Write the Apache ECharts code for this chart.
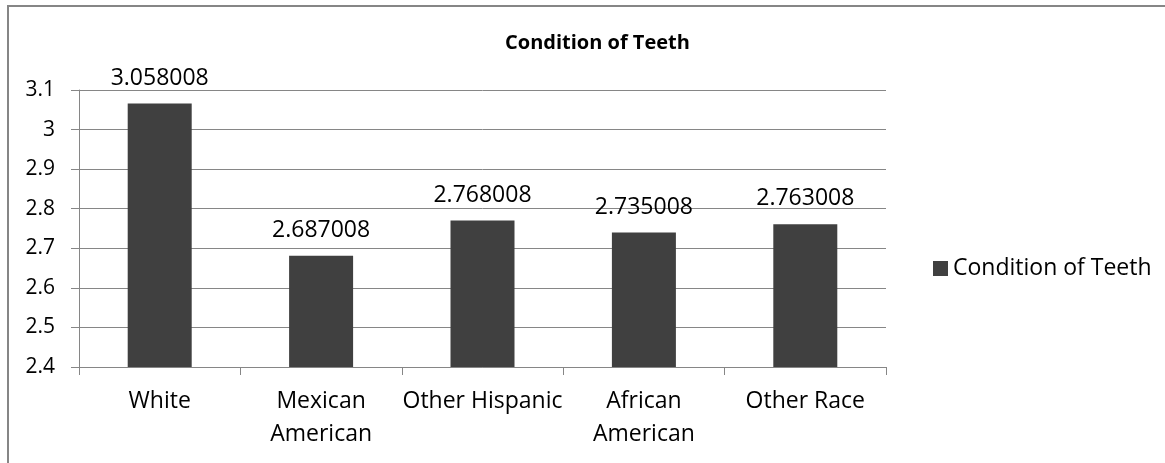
<!DOCTYPE html>
<html>
<head>
<meta charset="utf-8">
<script src="https://cdn.jsdelivr.net/npm/echarts@6/dist/echarts.min.js"></script>
<style>
  html, body { margin: 0; padding: 0; background: #fff; }
  #bar { width: 1165px; height: 463px; }
</style>
</head>
<body>
<div id="bar"></div>
<script>
var categories = ['White', 'Mexican\nAmerican', 'Other Hispanic', 'African\nAmerican', 'Other Race'];
var barValues = [3.066, 2.681, 2.770, 2.740, 2.761];
var labelTexts = ['3.058008', '2.687008', '2.768008', '2.735008', '2.763008'];
var yTicks = { min: 2.4, max: 3.1, step: 0.1 };

var lineGray = '#868686';
var font = 'Open Sans';

var myChart = echarts.init(document.getElementById('bar'));
var option = {
  animation: false,
  backgroundColor: '#fff',
  graphic: [{
    type: 'rect',
    shape: { x: 8, y: 6, width: 1200, height: 500 },
    style: { fill: 'none', stroke: lineGray, lineWidth: 2 }
  }],
  title: {
    text: 'Condition of Teeth',
    left: 500,
    top: 28,
    textStyle: { fontFamily: font, fontSize: 20, fontWeight: 'bold', color: '#000' }
  },
  legend: {
    data: ['Condition of Teeth'],
    left: 928,
    top: 252,
    icon: 'rect',
    itemWidth: 15,
    itemHeight: 15,
    textStyle: { fontFamily: font, fontSize: 23, color: '#000' }
  },
  grid: {
    left: 79,
    right: 279,
    top: 90,
    bottom: 96,
    containLabel: false
  },
  xAxis: {
    type: 'category',
    data: categories,
    axisLine: { lineStyle: { color: lineGray, width: 1 } },
    axisTick: { show: true, length: 8, lineStyle: { color: lineGray } },
    axisLabel: {
      fontFamily: font,
      fontSize: 23,
      lineHeight: 33,
      color: '#000',
      margin: 18,
      interval: 0
    }
  },
  yAxis: {
    type: 'value',
    min: yTicks.min,
    max: yTicks.max,
    interval: yTicks.step,
    axisLine: { show: true, lineStyle: { color: lineGray, width: 1 } },
    axisTick: { show: true, length: 8, lineStyle: { color: lineGray } },
    splitLine: { lineStyle: { color: lineGray, width: 1 } },
    axisLabel: {
      fontFamily: font,
      fontSize: 21,
      color: '#000',
      margin: 24
    }
  },
  series: [
    {
      name: 'Condition of Teeth',
      type: 'bar',
      data: barValues,
      barWidth: 64,
      itemStyle: { color: '#404040' },
      label: {
        show: true,
        position: 'top',
        distance: 14,
        fontFamily: font,
        fontSize: 23,
        color: '#000',
        formatter: function (p) { return labelTexts[p.dataIndex]; }
      }
    }
  ]
};
myChart.setOption(option);
</script>
</body>
</html>
